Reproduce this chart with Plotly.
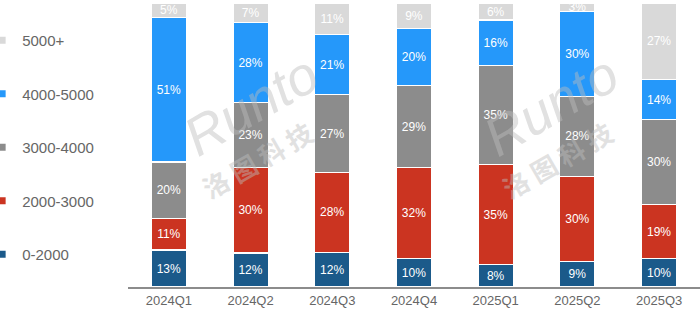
import plotly.graph_objects as go

quarters = ["2024Q1", "2024Q2", "2024Q3", "2024Q4", "2025Q1", "2025Q2", "2025Q3"]
series_names = ["0-2000", "2000-3000", "3000-4000", "4000-5000", "5000+"]
v_0_2000 = [13, 12, 12, 10, 8, 9, 10]
v_2000_3000 = [11, 30, 28, 32, 35, 30, 19]
v_3000_4000 = [20, 23, 27, 29, 35, 28, 30]
v_4000_5000 = [51, 28, 21, 20, 16, 30, 14]
v_5000_plus = [5, 7, 11, 9, 6, 3, 27]
series_values = [v_0_2000, v_2000_3000, v_3000_4000, v_4000_5000, v_5000_plus]
colors = ["#1B5A8A", "#CB3421", "#8C8C8C", "#2598FA", "#D9D9D9"]

fig = go.Figure()
for name, vals, col in zip(series_names, series_values, colors):
    fig.add_trace(go.Bar(
        x=quarters, y=vals, name=name, showlegend=False,
        marker=dict(color=col, line=dict(color="white", width=1.2)),
        text=[f"{v}%" for v in vals], textposition="inside",
        insidetextanchor="middle", constraintext="none",
        textfont=dict(color="white", size=12, family="Liberation Sans"),
        hoverinfo="skip",
    ))
for name, col in reversed(list(zip(series_names, colors))):
    fig.add_trace(go.Scatter(
        x=[None], y=[None], mode="markers", name=name, legendgroup=name,
        marker=dict(symbol="square", size=7, color=col),
    ))

# watermark
for xc in [0.215, 0.74]:
    fig.add_annotation(x=xc, y=0.64, xref="paper", yref="paper", text="<i>Runto</i>",
                       xanchor="center", yanchor="middle",
                       showarrow=False, textangle=-30, opacity=0.45,
                       font=dict(size=54, color="#BDBDBD", family="Liberation Sans"))
    fig.add_annotation(x=xc + 0.01, y=0.45, xref="paper", yref="paper",
                       xanchor="center", yanchor="middle",
                       text="<b>洛 图 科 技</b>", showarrow=False, textangle=-30, opacity=0.45,
                       font=dict(size=26, color="#BDBDBD", family="Noto Sans CJK SC"))

fig.update_layout(
    width=700, height=315,
    margin=dict(l=128, r=0, t=3, b=28, autoexpand=False),
    barmode="stack", barnorm="percent", bargap=0.57,
    plot_bgcolor="white", paper_bgcolor="white",
    font=dict(family="Liberation Sans", color="#595959"),
    xaxis=dict(showline=True, linecolor="#8C8C8C", linewidth=2, ticks="",
               tickfont=dict(size=13, color="#666666"), fixedrange=True),
    yaxis=dict(visible=False, range=[0, 100], showgrid=False),
    legend=dict(x=-0.255, xanchor="left", y=0.926, yanchor="top",
                traceorder="grouped", tracegroupgap=31,
                font=dict(size=15, color="#666666"), itemwidth=30,
                bgcolor="rgba(0,0,0,0)"),
    showlegend=True,
)
fig.write_html("out.html")
